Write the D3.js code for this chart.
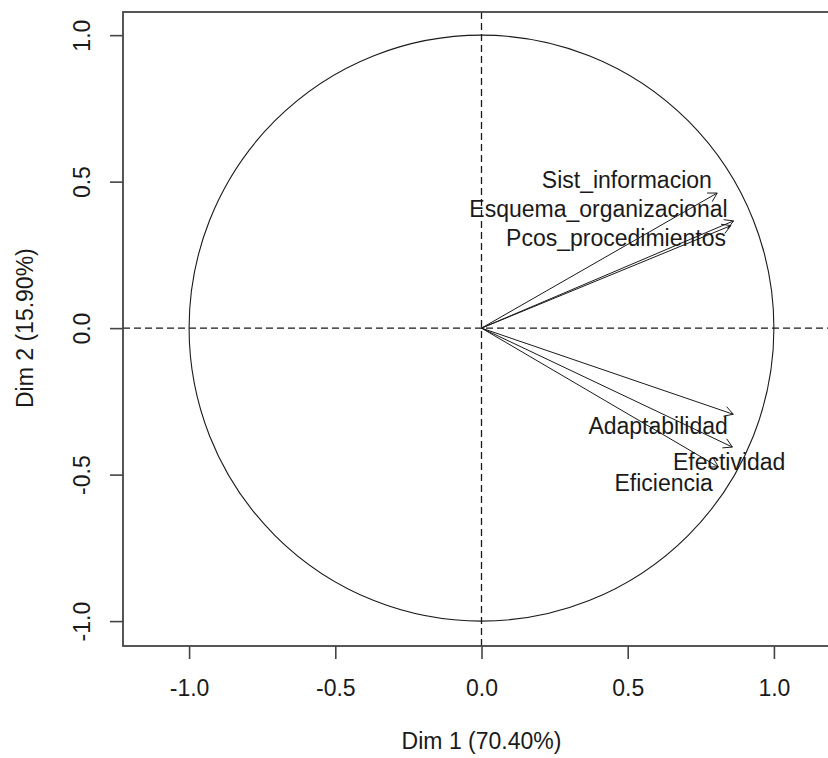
<!DOCTYPE html>
<html>
<head>
<meta charset="utf-8">
<script src="https://cdn.jsdelivr.net/npm/d3@7"></script>
<style>
  body { margin: 0; background: #fff; }
  svg { display: block; font-family: "Liberation Sans", Arial, sans-serif; }
</style>
</head>
<body>
<script>
// variables factor map (PCA), coords on Dim 1 / Dim 2
var variables = ['Sist_informacion', 'Esquema_organizacional', 'Pcos_procedimientos',
                 'Adaptabilidad', 'Efectividad', 'Eficiencia']
var dim1 = [0.806, 0.862, 0.853, 0.861, 0.858, 0.810]
var dim2 = [0.461, 0.366, 0.350, -0.294, -0.406, -0.474]
// where the labels sit (data units, label centre)
var labelX = [0.497, 0.400, 0.460, 0.604, 0.847, 0.623]
var labelY = [0.505, 0.406, 0.307, -0.334, -0.457, -0.526]

var tickValues = [-1, -0.5, 0, 0.5, 1]
var xTitle = 'Dim 1 (70.40%)'
var yTitle = 'Dim 2 (15.90%)'

var width = 828, height = 758
var box = {left: 123, top: 12, right: 840, bottom: 646}

var svg = d3.select('body').append('svg')
    .attr('width', width)
    .attr('height', height)

var x = d3.scaleLinear().domain([-1.226, 1.226]).range([box.left, box.right])
var y = d3.scaleLinear().domain([-1.085, 1.079]).range([box.bottom, box.top])

var ink = '#1a1a1a'

// unit circle
svg.append('ellipse')
  .attr('cx', x(0)).attr('cy', y(0))
  .attr('rx', x(1) - x(0)).attr('ry', y(0) - y(1))
  .attr('fill', 'none').attr('stroke', ink).attr('stroke-width', 1.1)

// dashed reference lines
svg.append('line')
  .attr('x1', box.left).attr('x2', box.right)
  .attr('y1', y(0)).attr('y2', y(0))
  .attr('stroke', ink).attr('stroke-width', 1.3).attr('stroke-dasharray', '7,4')
svg.append('line')
  .attr('x1', x(0)).attr('x2', x(0))
  .attr('y1', box.top).attr('y2', box.bottom)
  .attr('stroke', ink).attr('stroke-width', 1.3).attr('stroke-dasharray', '7,4')

// arrows
var arrows = svg.append('g').attr('stroke', ink).attr('stroke-width', 1).attr('fill', 'none')
variables.forEach(function(v, i) {
  var x0 = x(0), y0 = y(0), x1 = x(dim1[i]), y1 = y(dim2[i])
  arrows.append('line')
    .attr('x1', x0).attr('y1', y0).attr('x2', x1).attr('y2', y1)
  var ang = Math.atan2(y1 - y0, x1 - x0)
  var len = 10
  var head = [ang + Math.PI - Math.PI / 6, ang + Math.PI + Math.PI / 6]
  arrows.append('path')
    .attr('d', 'M' + (x1 + len * Math.cos(head[0])) + ',' + (y1 + len * Math.sin(head[0])) +
               'L' + x1 + ',' + y1 +
               'L' + (x1 + len * Math.cos(head[1])) + ',' + (y1 + len * Math.sin(head[1])))
})

// labels
svg.append('g').selectAll('text')
  .data(variables)
  .enter().append('text')
    .attr('x', function(d, i) { return x(labelX[i]) })
    .attr('y', function(d, i) { return y(labelY[i]) })
    .attr('dy', '0.36em')
    .attr('text-anchor', 'middle')
    .attr('font-size', 23)
    .attr('fill', ink)
    .text(function(d) { return d })

// box (right side runs past the edge of the picture)
svg.append('rect')
  .attr('x', box.left).attr('y', box.top)
  .attr('width', box.right - box.left).attr('height', box.bottom - box.top)
  .attr('fill', 'none').attr('stroke', '#444').attr('stroke-width', 1.8)

// axes, R style labels use a plain hyphen for the minus
var fmt = function(v) { return d3.format('.1f')(v).replace('\u2212', '-') }
var xAxis = svg.append('g')
  .attr('transform', 'translate(0,' + box.bottom + ')')
  .call(d3.axisBottom(x).tickValues(tickValues).tickFormat(fmt).tickSize(13).tickPadding(21))
var yAxis = svg.append('g')
  .attr('transform', 'translate(' + box.left + ',0)')
  .call(d3.axisLeft(y).tickValues(tickValues).tickFormat(fmt).tickSize(13))

;[xAxis, yAxis].forEach(function(a) {
  a.select('.domain').remove()
  a.selectAll('line').attr('stroke', '#444').attr('stroke-width', 1.6)
  a.selectAll('text').attr('font-size', 23).attr('fill', ink).attr('font-family', null)
})
yAxis.selectAll('text')
  .attr('x', null).attr('dy', null)
  .attr('text-anchor', 'middle')
  .attr('transform', 'translate(-33,0) rotate(-90)')

// titles
svg.append('text')
  .attr('x', x(0)).attr('y', 749)
  .attr('text-anchor', 'middle')
  .attr('font-size', 23).attr('fill', ink)
  .text(xTitle)
svg.append('text')
  .attr('transform', 'translate(33,' + y(0) + ') rotate(-90)')
  .attr('text-anchor', 'middle')
  .attr('font-size', 23).attr('fill', ink)
  .text(yTitle)
</script>
</body>
</html>
